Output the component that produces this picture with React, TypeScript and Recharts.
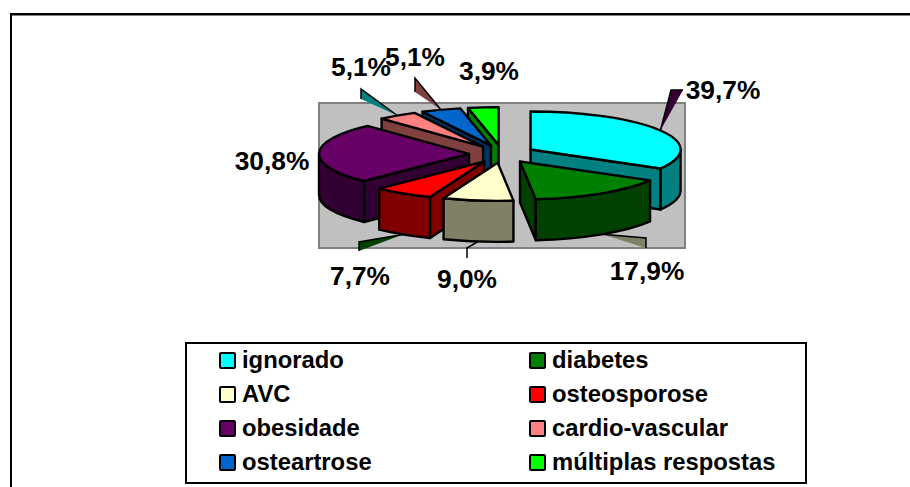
import React from 'react';
import { PieChart, Pie, Legend } from 'recharts';

const categories = ['ignorado', 'diabetes', 'AVC', 'osteosporose', 'obesidade', 'cardio-vascular', 'osteartrose', 'múltiplas respostas'];
const values = [39.7, 17.9, 9.0, 7.7, 30.8, 5.1, 5.1, 3.9];
const topColors = ['#00ffff', '#008000', '#ffffcc', '#ff0000', '#660066', '#ff8080', '#0066cc', '#00ff00'];
const sideColors = ['#008080', '#004000', '#808066', '#800000', '#330033', '#804040', '#003366', '#008000'];
// back-to-front painting order of the 3D slices
const drawOrder = [7, 6, 5, 0, 4, 3, 2, 1];
// data label centres and the foot of each leader
const labelCentres: [number, number][] = [[723, 90], [647, 271], [467, 279], [360, 276], [272, 161], [361, 67], [415, 57], [489, 71]];
const leaderFeet: ([number, number, number] | null)[] = [[671, 90, 12], [646, 238, 10], [467, 258, 0], [359, 242, 9], null, [361, 89, 10], [415, 78, 14], null];
const leaderColors = ['#330033', '#808066', '#000000', '#004000', '', '#008080', '#804040', ''];

const data = categories.map((name, i) => ({ name, value: values[i] }));

const EXPLOSION = 33;
const SQUASH = 38 / 150;
const EXPLODE_SQUASH = 0.27;
const DEPTH = 41;
const FONT = '"Liberation Sans", Arial, sans-serif';

const rad = (a: number) => (a * Math.PI) / 180;

function sliceGeom(p: any) {
  const r = p.outerRadius;
  const ry = r * SQUASH;
  const mid = (p.startAngle + p.endAngle) / 2;
  const tx = p.cx + EXPLOSION * Math.cos(rad(mid));
  const ty = p.cy - EXPLOSION * EXPLODE_SQUASH * Math.sin(rad(mid));
  const pt = (a: number, d = 0) => [tx + r * Math.cos(rad(a)), ty - ry * Math.sin(rad(a)) + d];
  return { r, ry, mid, tx, ty, pt };
}

function Slice3D(props: any) {
  const i = props.index;
  const { r, ry, tx, ty, pt } = sliceGeom(props);
  const s = props.startAngle;
  const e = props.endAngle;
  const common = { stroke: '#000', strokeWidth: 2.4, strokeLinejoin: 'round' as const };
  const cut = (a: number) => {
    const q = pt(a);
    return `M${tx},${ty}L${q[0]},${q[1]}L${q[0]},${q[1] + DEPTH}L${tx},${ty + DEPTH}Z`;
  };
  const walls: string[] = [];
  for (let k = -1; k <= 2; k++) {
    const hi = Math.min(s, 360 * (1 - k));
    const lo = Math.max(e, 180 - 360 * k);
    if (hi > lo) {
      const a = pt(hi);
      const b = pt(lo);
      const big = hi - lo > 180 ? 1 : 0;
      walls.push(
        `M${a[0]},${a[1]}A${r},${ry} 0 ${big} 1 ${b[0]},${b[1]}L${b[0]},${b[1] + DEPTH}A${r},${ry} 0 ${big} 0 ${a[0]},${a[1] + DEPTH}Z`
      );
    }
  }
  const a = pt(s);
  const b = pt(e);
  const big = s - e > 180 ? 1 : 0;
  const top = `M${tx},${ty}L${a[0]},${a[1]}A${r},${ry} 0 ${big} 1 ${b[0]},${b[1]}Z`;
  return (
    <g>
      {Math.cos(rad(s)) < -1e-6 && <path d={cut(s)} fill={sideColors[i]} {...common} />}
      {Math.cos(rad(e)) > 1e-6 && <path d={cut(e)} fill={sideColors[i]} {...common} />}
      {walls.map((d, n) => (
        <path key={n} d={d} fill={sideColors[i]} {...common} />
      ))}
      <path d={top} fill={topColors[i]} {...common} />
    </g>
  );
}

function SliceLabel(props: any) {
  const i = props.index;
  const { mid, pt } = sliceGeom(props);
  const [lx, ly] = labelCentres[i];
  const foot = leaderFeet[i];
  const isLowerHalf = Math.sin(rad(mid)) < -0.3;
  const tip = pt(mid, isLowerHalf ? DEPTH : 0);
  let leader = null;
  if (foot) {
    const [fx, fy, w] = foot;
    if (w === 0) {
      leader = <path d={`M${tip[0]},${tip[1]}L${fx},${fy - 10}L${fx},${fy}`} fill="none" stroke="#000" strokeWidth={1.5} />;
    } else {
      const other = i === 0 ? [fx + w, fy] : [fx, fy + w];
      leader = (
        <g>
          <path d={`M${tip[0]},${tip[1]}L${fx},${fy}L${other[0]},${other[1]}Z`} fill={leaderColors[i]} />
          <path d={`M${tip[0]},${tip[1]}L${fx},${fy}L${other[0]},${other[1]}`} fill="none" stroke="#000" strokeWidth={1.5} />
        </g>
      );
    }
  }
  return (
    <g>
      {leader}
      <text x={lx} y={ly + 9} textAnchor="middle" fontFamily={FONT} fontWeight={700} fontSize={26.3} fill="#000">
        {values[i].toFixed(1).replace('.', ',')}%
      </text>
    </g>
  );
}

function LegendBox() {
  return (
    <div
      style={{
        boxSizing: 'border-box',
        width: 622,
        height: 142,
        border: '2px solid #000',
        background: '#fff',
        position: 'relative',
        fontFamily: FONT,
        fontWeight: 700,
        fontSize: 23.8,
        color: '#000',
      }}
    >
      {categories.map((name, i) => {
        const col = i % 2;
        const row = Math.floor(i / 2);
        return (
          <div
            key={name}
            style={{
              position: 'absolute',
              left: col === 0 ? 32 : 342,
              top: 7 + row * 34,
              height: 18,
              display: 'flex',
              alignItems: 'center',
              whiteSpace: 'nowrap',
            }}
          >
            <span
              style={{
                display: 'inline-block',
                boxSizing: 'border-box',
                width: 17,
                height: 17,
                border: '2px solid #000',
                borderRadius: 2,
                background: topColors[i],
                marginRight: 6,
              }}
            />
            <span>{name}</span>
          </div>
        );
      })}
    </div>
  );
}

export default function App() {
  return (
    <div style={{ position: 'absolute', left: 0, top: 0, width: 910, height: 487, overflow: 'hidden', background: '#fff' }}>
      <PieChart width={910} height={487} margin={{ top: 0, right: 0, bottom: 0, left: 0 }}>
        <path d="M910,15.5L12,15.5" stroke="#808080" strokeWidth={1} fill="none" />
        <path d="M910,14L11,14L11,487" stroke="#000" strokeWidth={2} fill="none" />
        <rect x={319} y={103} width={366} height={145} fill="#c0c0c0" stroke="#808080" strokeWidth={2} />
        {drawOrder.map((idx) => (
          <Pie
            key={idx}
            data={data}
            dataKey="value"
            nameKey="name"
            cx={502}
            cy={154}
            innerRadius={0}
            outerRadius={150}
            startAngle={90}
            endAngle={-270}
            stroke="none"
            isAnimationActive={false}
            labelLine={false}
            shape={(p: any) => (p.index === idx ? <Slice3D {...p} /> : <g />)}
            label={(p: any) => (p.index === idx ? <SliceLabel {...p} /> : <g />)}
          />
        ))}
        <Legend
          content={() => <LegendBox />}
          wrapperStyle={{ position: 'absolute', left: 185, top: 342, width: 622, height: 142, bottom: 'auto', right: 'auto' }}
        />
      </PieChart>
    </div>
  );
}
